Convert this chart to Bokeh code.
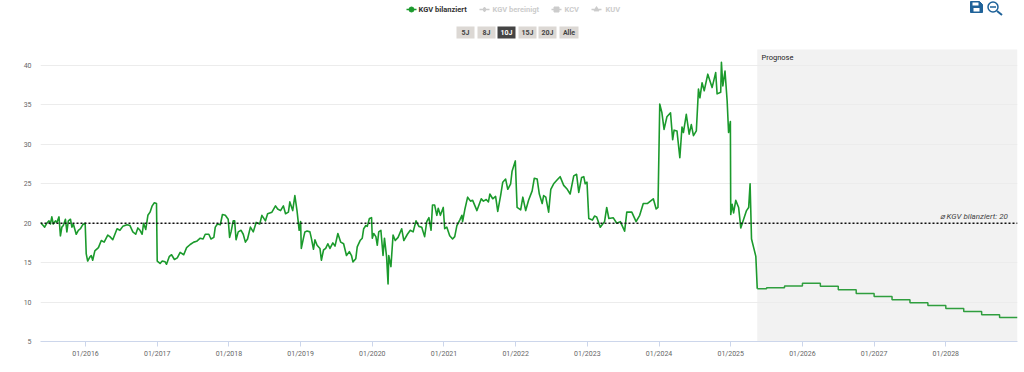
from bokeh.plotting import figure
from bokeh.embed import file_html
from bokeh.resources import INLINE
from bokeh.models import Range1d, FixedTicker, BoxAnnotation, Span, Label

hist_dates = [2015.37,2015.40,2015.43,2015.46,2015.49,2015.51,2015.53,2015.55,2015.58,2015.60,2015.63,2015.65,2015.67,2015.69,2015.72,2015.74,2015.76,2015.79,2015.81,2015.83,2015.87,2015.90,2015.93,2015.96,2015.995,
2016.01,2016.03,2016.06,2016.08,2016.10,2016.13,2016.18,2016.22,2016.26,2016.31,2016.34,2016.38,2016.41,2016.44,2016.48,2016.52,2016.58,2016.62,2016.66,2016.70,2016.73,2016.76,2016.79,2016.81,2016.84,2016.87,2016.90,2016.93,2016.96,2016.99,
2017.00,2017.04,2017.07,2017.11,2017.13,2017.17,2017.20,2017.24,2017.28,2017.32,2017.37,2017.41,2017.46,2017.51,2017.55,2017.60,2017.64,2017.67,2017.72,2017.75,2017.79,2017.81,2017.84,2017.88,2017.91,2017.95,2017.99,
2018.01,2018.03,2018.06,2018.08,2018.10,2018.13,2018.17,2018.20,2018.23,2018.26,2018.30,2018.34,2018.38,2018.43,2018.46,2018.51,2018.54,2018.60,2018.65,2018.68,2018.72,2018.76,2018.79,2018.83,2018.85,2018.89,2018.92,2018.95,2018.98,
2019.00,2019.01,2019.04,2019.06,2019.09,2019.13,2019.15,2019.18,2019.20,2019.23,2019.27,2019.29,2019.32,2019.35,2019.38,2019.41,2019.45,2019.48,2019.52,2019.56,2019.60,2019.64,2019.68,2019.71,2019.73,2019.77,2019.79,2019.83,2019.86,2019.88,2019.91,2019.93,2019.96,2019.99,
2020.00,2020.02,2020.05,2020.07,2020.09,2020.12,2020.15,2020.17,2020.20,2020.22,2020.23,2020.26,2020.29,2020.32,2020.36,2020.41,2020.44,2020.49,2020.53,2020.57,2020.61,2020.65,2020.69,2020.73,2020.76,2020.79,2020.82,2020.84,2020.87,2020.90,2020.92,2020.95,2020.99,
2021.01,2021.04,2021.08,2021.12,2021.15,2021.18,2021.22,2021.25,2021.26,2021.29,2021.33,2021.37,2021.40,2021.46,2021.52,2021.55,2021.59,2021.62,2021.64,2021.68,2021.72,2021.75,2021.79,2021.82,2021.86,2021.89,2021.93,2021.95,2021.995,
2022.02,2022.07,2022.10,2022.14,2022.18,2022.23,2022.26,2022.30,2022.33,2022.37,2022.39,2022.42,2022.46,2022.49,2022.53,2022.58,2022.62,2022.67,2022.72,2022.76,2022.81,2022.85,2022.88,2022.92,2022.95,2022.97,2022.995,
2023.02,2023.07,2023.10,2023.13,2023.18,2023.24,2023.27,2023.30,2023.36,2023.41,2023.46,2023.52,2023.55,2023.62,2023.68,2023.73,2023.78,2023.84,2023.92,2023.96,2023.985,
2024.01,2024.04,2024.07,2024.11,2024.16,2024.19,2024.21,2024.25,2024.29,2024.32,2024.34,2024.38,2024.42,2024.45,2024.48,2024.52,2024.55,2024.57,2024.60,2024.63,2024.68,2024.74,2024.79,2024.81,2024.86,2024.87,2024.89,2024.92,2024.95,2024.97,2024.995,
2025.00,2025.02,2025.04,2025.07,2025.11,2025.14,2025.18,2025.22,2025.25,2025.27,2025.29,2025.32,2025.35,2025.37]

hist_kgv = [20.1,19.8,19.5,20.0,20.3,19.9,20.8,19.9,20.3,20.1,20.8,18.4,19.5,19.7,20.5,18.9,20.3,20.5,19.5,19.9,18.6,19.1,19.3,19.8,20.0,
16.1,15.2,15.7,15.9,15.3,16.5,16.9,17.8,17.6,18.5,18.3,17.9,18.6,19.3,19.1,19.6,19.8,19.7,18.9,18.6,19.4,19.1,18.6,20.0,19.2,21.0,21.4,22.2,22.6,22.5,
15.2,14.9,15.2,15.1,14.8,15.8,16.0,15.4,15.6,16.3,16.0,16.9,17.3,17.6,17.7,18.1,18.0,18.6,18.6,18.0,18.2,19.5,19.9,19.8,21.1,21.0,20.5,
18.2,18.9,20.3,20.3,17.9,18.9,19.1,18.6,17.6,18.0,19.5,18.9,20.1,19.9,21.0,20.3,21.2,21.4,22.2,21.8,21.6,22.2,21.2,21.4,22.7,21.6,23.5,21.6,19.1,
20.2,16.8,18.1,18.9,19.0,18.9,18.1,16.7,17.9,17.2,16.8,15.3,16.6,16.8,17.4,16.8,17.5,17.1,18.7,17.6,17.4,15.9,16.4,15.9,15.1,15.5,17.0,17.8,18.1,19.3,19.7,19.6,20.6,20.7,
18.1,18.7,18.3,17.2,18.9,19.1,15.9,18.1,15.7,12.3,15.9,14.5,18.5,17.8,18.2,19.3,17.8,18.6,19.1,18.9,20.3,19.6,19.5,18.3,20.2,20.7,19.1,22.3,22.3,21.0,21.9,21.0,22.0,
19.3,19.5,18.4,18.0,18.3,19.7,20.4,21.0,20.2,21.7,23.3,22.8,22.9,21.6,23.1,22.8,23.0,22.7,23.7,23.1,23.4,21.5,23.5,25.2,25.6,24.3,25.0,26.6,27.9,
22.0,21.7,23.3,21.6,22.9,24.1,25.7,25.6,23.7,22.5,23.5,23.3,21.4,24.3,25.0,25.5,25.9,24.8,24.3,23.7,26.0,26.2,23.9,25.8,25.9,25.0,25.2,
20.6,20.4,20.9,20.8,19.5,20.2,22.0,20.6,20.7,20.0,20.2,19.0,21.4,21.4,20.2,21.0,22.5,22.5,23.1,21.8,22.0,
35.1,34.0,31.9,33.5,34.0,30.6,31.8,31.7,28.3,32.2,31.5,33.8,31.3,32.5,31.1,31.7,37.0,35.9,37.8,36.8,38.9,37.2,39.1,36.4,36.6,40.4,37.4,39.3,35.5,31.5,32.9,
21.1,22.4,21.3,22.9,22.0,19.4,20.5,21.6,22.0,25.0,18.0,16.9,15.8,11.7]

forecast_dates = [2025.37,2025.50,2025.75,2026.00,2026.25,2026.50,2026.75,2027.00,2027.25,2027.50,2027.75,2028.00,2028.25,2028.50,2028.75,2029.00]
forecast_kgv = [11.7,11.8,12.05,12.4,12.0,11.55,11.1,10.7,10.3,9.9,9.55,9.2,8.8,8.4,8.05,8.05]

mean_kgv = 20
y_ticks = [5,10,15,20,25,30,35,40]
x_ticks = [2016,2017,2018,2019,2020,2021,2022,2023,2024,2025,2026,2027,2028]
x_labels = ["01/2016","01/2017","01/2018","01/2019","01/2020","01/2021","01/2022","01/2023","01/2024","01/2025","01/2026","01/2027","01/2028"]
legend_names = ["KGV bilanziert","KGV bereinigt","KCV","KUV"]
range_buttons = ["5J","8J","10J","15J","20J","Alle"]

FONT = "Roboto"
GREEN = "#1b9a2c"

p = figure(width=1016, height=364, output_backend="svg", toolbar_location=None,
           x_range=Range1d(2015.372, 2029.0), y_range=Range1d(5, 48.24),
           min_border_left=32, min_border_right=7, min_border_top=0, min_border_bottom=23,
           margin=(0, 0, 0, 0),
           styles={"position": "absolute", "left": "8px", "top": "0px"})
p.outline_line_color = None
p.background_fill_color = "white"
p.extra_x_ranges["px"] = Range1d(40, 1017)
p.extra_y_ranges["px"] = Range1d(341, 0)

p.xgrid.visible = False
p.ygrid.ticker = FixedTicker(ticks=y_ticks)
p.ygrid.grid_line_color = "#ececec"
p.ygrid.grid_line_width = 1

p.xaxis.ticker = FixedTicker(ticks=x_ticks)
p.xaxis.major_label_overrides = dict(zip(x_ticks, x_labels))
p.xaxis.axis_line_color = "#ccd6eb"
p.xaxis.major_tick_line_color = "#ccd6eb"
p.xaxis.major_tick_out = 5
p.xaxis.major_tick_in = 0
p.xaxis.minor_tick_line_color = None
p.xaxis.major_label_standoff = 3
p.xaxis.major_label_text_font = FONT
p.xaxis.major_label_text_font_size = "7px"
p.xaxis.major_label_text_color = "#666666"

p.yaxis.ticker = FixedTicker(ticks=y_ticks)
p.yaxis.axis_line_color = None
p.yaxis.major_tick_line_color = None
p.yaxis.minor_tick_line_color = None
p.yaxis.major_tick_out = 0
p.yaxis.major_tick_in = 0
p.yaxis.minor_tick_out = 0
p.yaxis.major_label_standoff = 9
p.yaxis.major_label_text_font = FONT
p.yaxis.major_label_text_font_size = "7px"
p.yaxis.major_label_text_color = "#666666"

band = BoxAnnotation(left=2025.37, right=2029.0, bottom=5, top=42.03,
                     fill_color="#f2f2f2", fill_alpha=1, line_color=None, level="image")
p.add_layout(band)

p.line(hist_dates, hist_kgv, line_color=GREEN, line_width=1.6, line_join="round")
p.step(forecast_dates, forecast_kgv, mode="after", line_color="#2f9e3e", line_width=1.5)

p.add_layout(Span(location=mean_kgv, dimension="width", line_color="#111111", line_width=1.5, line_dash="2 2"))


def label(x, y, text, size="8px", color="#333333", style="normal", align="left", angle=0):
    p.add_layout(Label(x=x, y=y, x_range_name="px", y_range_name="px", text=text, angle=angle,
                       text_font=FONT, text_font_size=size, text_color=color,
                       text_font_style=style, text_align=align, text_baseline="middle"))


label(14, 195, "Multiple", size="7.5px", color="#444444", align="center", angle=1.5708)
label(939, 216, "\u2300 KGV bilanziert: " + str(mean_kgv), style="italic", color="#444444")
label(761, 57, "Prognose", size="7.5px", color="#222222")

# legend
leg_x0 = [406, 479, 551, 591]
leg_tx = [418, 492, 564, 605]
leg_col = [GREEN, "#cccccc", "#cccccc", "#cccccc"]
leg_txt = ["#333333", "#cccccc", "#cccccc", "#cccccc"]
leg_mark = ["circle", "diamond", "square", "triangle"]
for i, name in enumerate(legend_names):
    p.line([leg_x0[i], leg_x0[i] + 10], [9, 9], line_color=leg_col[i], line_width=1.5,
           x_range_name="px", y_range_name="px")
    p.scatter([leg_x0[i] + 5], [9], marker=leg_mark[i], size=5, fill_color=leg_col[i], line_color=leg_col[i],
              x_range_name="px", y_range_name="px")
    label(leg_tx[i], 9, name, size="7.5px", style="bold", color=leg_txt[i])

# range buttons
btn_l = [456, 477, 497, 518, 538, 559]
btn_r = [474, 495, 515, 536, 556, 578]
for i, b in enumerate(range_buttons):
    active = b == "10J"
    p.quad(left=[btn_l[i]], right=[btn_r[i]], top=[26], bottom=[38],
           fill_color="#444444" if active else "#dcd8d4", line_color=None,
           x_range_name="px", y_range_name="px")
    label((btn_l[i] + btn_r[i]) / 2, 32.5, b, size="7px", style="bold",
          color="#ffffff" if active else "#444444", align="center")

# icons: save and zoom-out
ICON = "#1f6299"
p.patch([970, 979, 982, 982, 970], [1, 1, 4, 12, 12], fill_color=ICON, line_color=ICON,
        x_range_name="px", y_range_name="px")
p.quad(left=[972], right=[978], top=[2], bottom=[5], fill_color="white", line_color=None,
       x_range_name="px", y_range_name="px")
p.quad(left=[973], right=[979], top=[7.5], bottom=[11], fill_color="white", line_color=None,
       x_range_name="px", y_range_name="px")
p.scatter([992.5], [6.5], marker="circle", size=10, fill_color=None, line_color=ICON, line_width=1.5,
          x_range_name="px", y_range_name="px")
p.line([996.5, 1001.5], [10.5, 14.5], line_color=ICON, line_width=2, x_range_name="px", y_range_name="px")
p.line([989.5, 995.5], [6.5, 6.5], line_color=ICON, line_width=1.5, x_range_name="px", y_range_name="px")

open("out.html", "w").write(file_html(p, INLINE))
